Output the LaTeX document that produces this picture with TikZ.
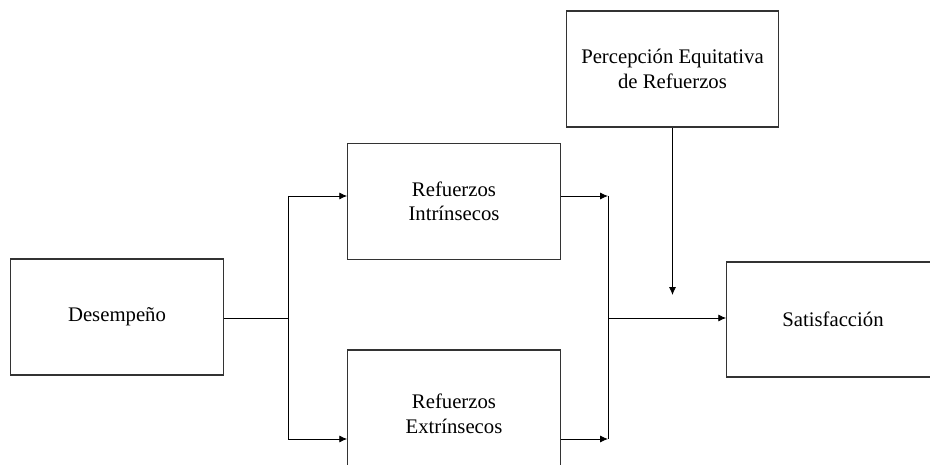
\documentclass[tikz,border=0pt]{standalone}
\usepackage{fontspec}
\setmainfont{Liberation Serif}
\usetikzlibrary{arrows.meta}

\begin{document}
\begin{tikzpicture}[x=0.02cm, y=-0.02cm,
    caja/.style={draw=black!80, line width=0.7pt, minimum width=4.25cm, minimum height=2.32cm,
        align=center, font=\fontsize{11.8}{14}\selectfont, inner sep=0pt},
    flecha/.style={-{Latex[length=4.5pt,width=4pt]}, line width=0.5pt},
    linea/.style={line width=0.5pt}]
        \useasboundingbox (0,0) rectangle (930,465);
        \clip (0,0) rectangle (930,465);

        \node[caja] (des) at (117,317) {Desempeño};
        \node[caja] (intr) at (454,201.5) {Refuerzos\\Intrínsecos};
        \node[caja, minimum height=2.56cm] (extr) at (454,414) {Refuerzos\\Extrínsecos};
        \node[caja] (perc) at (672.5,69) {Percepción Equitativa\\de Refuerzos};
        \node[caja, minimum height=2.3cm] (sat) at (833,319.5) {Satisfacción};

        \coordinate (split) at (288,318);
        \coordinate (ftop) at (288,196);
        \coordinate (fbot) at (288,439);
        \coordinate (jtop) at (608,196);
        \coordinate (jbot) at (608,439);
        \coordinate (join) at (608,318);
        \coordinate (pend) at (672.5,295);

        % desde desempeño
        \draw[linea] (des.east |- split) -- (split);
        \draw[linea] (ftop) -- (fbot);
        \draw[flecha] (ftop) -- (ftop -| intr.west);
        \draw[flecha] (fbot) -- (fbot -| extr.west);

        % hacia satisfacción
        \draw[flecha] (jtop -| intr.east) -- (jtop);
        \draw[flecha] (jbot -| extr.east) -- (jbot);
        \draw[linea] (jtop) -- (jbot);
        \draw[flecha] (join) -- (join -| sat.west);
        \draw[flecha] (perc.south) -- (pend);
\end{tikzpicture}
\end{document}
